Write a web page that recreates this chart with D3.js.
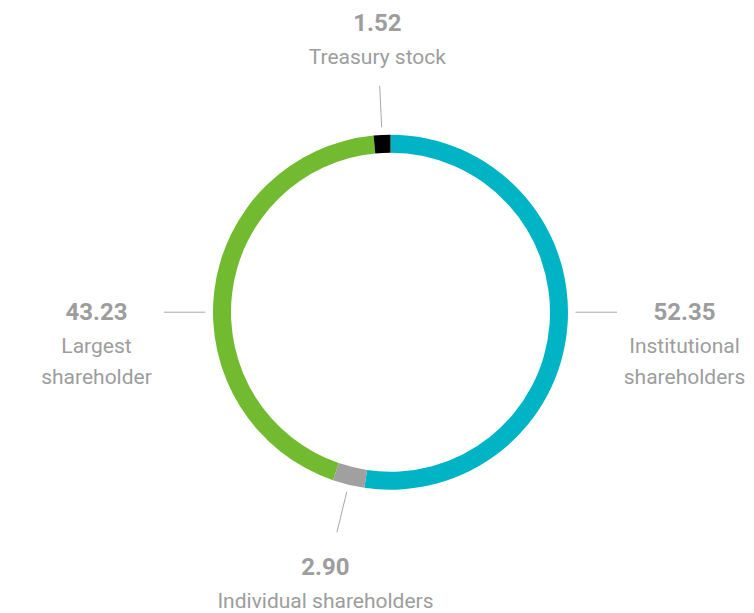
<!DOCTYPE html>
<html>
<head>
<meta charset="utf-8">
<script src="https://cdn.jsdelivr.net/npm/d3@7"></script>
<style>
	body { margin: 0; background: #fff; }
	svg text { font-family: Roboto, sans-serif; fill: #9d9d9d; }
	.value { font-size: 24px; font-weight: bold; }
	.name { font-size: 21px; }
</style>
</head>
<body>
<div class="container"></div>
<script>
var names = ['Institutional shareholders', 'Individual shareholders', 'Largest shareholder', 'Treasury stock'];
var nameLines = [['Institutional', 'shareholders'], ['Individual shareholders'], ['Largest', 'shareholder'], ['Treasury stock']];
var shares = [52.35, 2.90, 43.23, 1.52];
var colors = ['#00b4c5', '#a0a0a0', '#72ba2f', '#000000'];

var width = 754,
	height = 613,
	cx = 390.5,
	cy = 312.2,
	outerR = 177.5,
	innerR = 159.5,
	lineR0 = 185,
	lineR1 = 226.5;

var svg = d3.select('.container')
	.append('svg')
	.attr('width', width)
	.attr('height', height);

var chart = svg.append('g')
	.attr('transform', 'translate(' + cx + ',' + cy + ')');

var pie = d3.pie()
	.sort(null)
	.value(function (d) { return d; });

var arc = d3.arc()
	.innerRadius(innerR)
	.outerRadius(outerR);

var arcs = pie(shares);

chart.selectAll('path')
	.data(arcs)
	.enter().append('path')
	.attr('d', arc)
	.attr('fill', function (d, i) { return colors[i]; });

// leader angle: snap to east / west if the slice covers it, else mid angle
function leaderAngle(d) {
	var east = Math.PI / 2,
		west = Math.PI * 1.5;
	if (d.startAngle <= east && d.endAngle >= east) return east;
	if (d.startAngle <= west && d.endAngle >= west) return west;
	return (d.startAngle + d.endAngle) / 2;
}

function polar(r, a) {
	return [r * Math.sin(a), -r * Math.cos(a)];
}

var labels = chart.selectAll('g.label')
	.data(arcs)
	.enter().append('g')
	.classed('label', true);

labels.append('line')
	.attr('x1', function (d) { return polar(lineR0, leaderAngle(d))[0]; })
	.attr('y1', function (d) { return polar(lineR0, leaderAngle(d))[1]; })
	.attr('x2', function (d) { return polar(lineR1, leaderAngle(d))[0]; })
	.attr('y2', function (d) { return polar(lineR1, leaderAngle(d))[1]; })
	.attr('stroke', '#a8a8a8')
	.attr('stroke-width', 1);

labels.each(function (d, i) {
	var g = d3.select(this),
		a = leaderAngle(d),
		end = polar(lineR1, a),
		lines = nameLines[i],
		x, y;

	if (Math.abs(Math.sin(a)) > 0.99) {
		// side labels
		x = polar(294, a)[0];
		y = 7.5;
	} else if (Math.cos(a) > 0) {
		// above the ring
		x = polar(275, a)[0];
		y = end[1] - 23 - 32 * lines.length;
	} else {
		// below the ring
		x = polar(275, a)[0];
		y = end[1] + 43;
	}

	g.append('text')
		.classed('value', true)
		.attr('text-anchor', 'middle')
		.attr('x', x)
		.attr('y', y)
		.text(shares[i].toFixed(2));

	lines.forEach(function (line, j) {
		g.append('text')
			.classed('name', true)
			.attr('text-anchor', 'middle')
			.attr('x', x)
			.attr('y', y + 33 + j * 31)
			.text(line);
	});
});
</script>
</body>
</html>
